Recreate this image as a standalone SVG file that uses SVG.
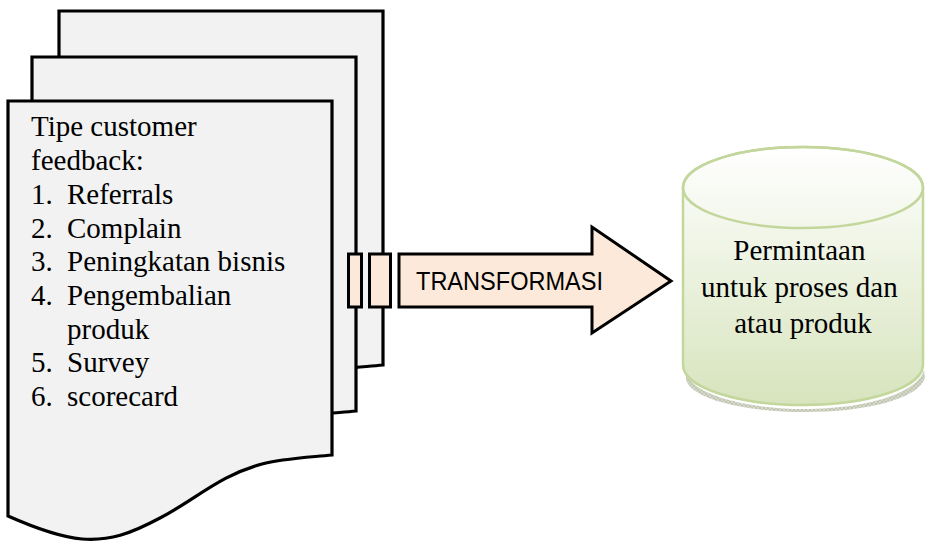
<svg xmlns="http://www.w3.org/2000/svg" width="925" height="542" viewBox="0 0 925 542">
  <style>
    .page { fill: #f2f2f2; stroke: #000; stroke-width: 3.2; stroke-linejoin: miter; }
    .serif { font-family: "Liberation Serif", "Times New Roman", serif; font-size: 29px; fill: #000; }
    .arrow { fill: #fde9d9; stroke: #000; stroke-width: 3; }
    .label { font-family: "Liberation Sans", Arial, sans-serif; font-size: 26px; fill: #000; }
    .drum { stroke: #c3d69b; stroke-width: 2.5; }
  </style>
  <defs>
    <!-- multi-document outline: straight top and sides, wavy bottom -->
    <path id="docShape" d="M0,0 H324 V354 C292,357 272,358 254,363 C212,374 187,399 152,417 C122,433 102,440 74,438 C52,436 27,427 0,415 Z"/>
    <linearGradient id="drumFill" x1="0" y1="0" x2="0" y2="1">
      <stop offset="0" stop-color="#ffffff"/>
      <stop offset="1" stop-color="#d7e4bd"/>
    </linearGradient>
    <pattern id="grain" width="4" height="4" patternUnits="userSpaceOnUse">
      <rect width="4" height="4" fill="#c4cab2"/>
      <path d="M0,0 L4,4 M4,0 L0,4" stroke="#8e957c" stroke-width="0.6"/>
    </pattern>
  </defs>

  <!-- stacked feedback documents -->
  <g id="doc-back">
    <use href="#docShape" class="page" transform="translate(59,11)"/>
  </g>
  <g id="doc-middle">
    <use href="#docShape" class="page" transform="translate(32,57)"/>
  </g>
  <g id="doc-front">
    <use href="#docShape" class="page" transform="translate(8,101)"/>
    <text class="serif">
      <tspan x="31" y="136">Tipe customer</tspan>
      <tspan x="31" y="170">feedback:</tspan>
      <tspan x="31" y="203.5">1.</tspan><tspan x="67" y="203.5">Referrals</tspan>
      <tspan x="31" y="237.5">2.</tspan><tspan x="67" y="237.5">Complain</tspan>
      <tspan x="31" y="271">3.</tspan><tspan x="67" y="271">Peningkatan bisnis</tspan>
      <tspan x="31" y="305">4.</tspan><tspan x="67" y="305">Pengembalian</tspan>
      <tspan x="67" y="338.5">produk</tspan>
      <tspan x="31" y="372">5.</tspan><tspan x="67" y="372">Survey</tspan>
      <tspan x="31" y="406">6.</tspan><tspan x="67" y="406">scorecard</tspan>
    </text>
  </g>

  <!-- striped transformation arrow -->
  <g id="connectors">
    <g id="transform-arrow">
      <rect class="arrow" x="348.5" y="254" width="13" height="53"/>
      <rect class="arrow" x="369.5" y="254" width="21" height="53"/>
      <polygon class="arrow" points="399,254 592,254 592,227 671,281 592,333 592,307 399,307"/>
      <text class="label" x="416" y="290" textLength="187" lengthAdjust="spacingAndGlyphs">TRANSFORMASI</text>
    </g>
  </g>

  <!-- request store cylinder -->
  <g id="request-store">
    <path d="M686,372 C690,393 742,409 805,409 C866,409 918,393 924,370 L925,378 C918,399 866,412 805,412 C744,412 692,399 686,380 Z" fill="url(#grain)" opacity="0.7"/>
    <path class="drum" fill="url(#drumFill)" d="M683,187.5 A120,40.5 0 0 1 923,187.5 V365 A120,40 0 0 1 683,365 Z"/>
    <ellipse class="drum" cx="803" cy="187.5" rx="120" ry="40.5" fill="none"/>
    <text class="serif" text-anchor="middle">
      <tspan x="803" y="260">Permintaan</tspan>
      <tspan x="803" y="297">untuk proses dan</tspan>
      <tspan x="803" y="333">atau produk</tspan>
    </text>
  </g>
</svg>
